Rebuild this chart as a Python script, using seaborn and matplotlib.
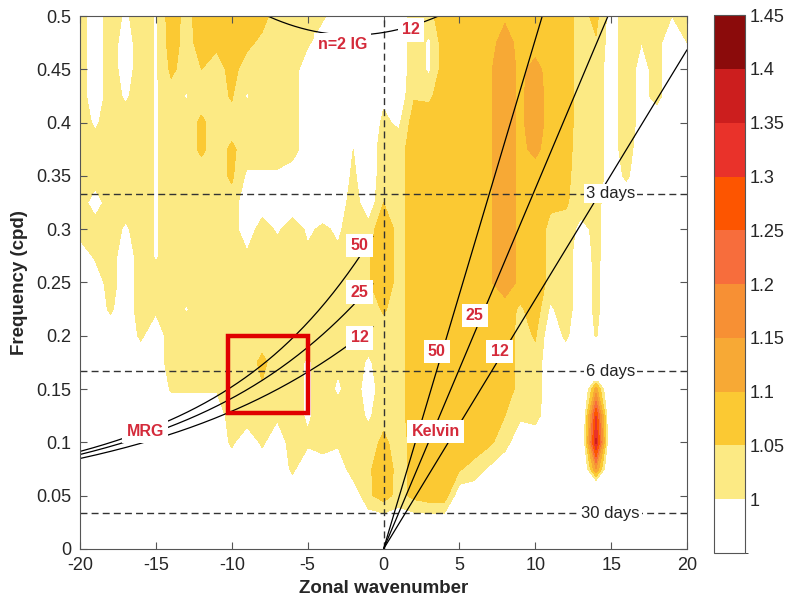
import numpy as np
import matplotlib
matplotlib.use("Agg")
import matplotlib.pyplot as plt
from matplotlib.colors import ListedColormap, BoundaryNorm
from matplotlib.cm import ScalarMappable
from matplotlib.patches import Rectangle
import seaborn as sns

# grid: zonal wavenumber (columns) and frequency in cpd (rows, top to bottom)
wavenumbers = [-20, -19, -18, -17, -16, -15, -14, -13, -12, -11,
               -10, -9, -8, -7, -6, -5, -4, -3, -2, -1,
               0,
               1, 2, 3, 4, 5, 6, 7, 8, 9, 10,
               11, 12, 13, 14, 15, 16, 17, 18, 19, 20]
frequencies = [0.5, 0.475, 0.45, 0.425, 0.4, 0.375, 0.35, 0.325, 0.3, 0.275, 0.25,
               0.225, 0.2, 0.175, 0.15, 0.125, 0.1, 0.075, 0.05, 0.025, 0.0]

# normalised power (symmetric / background), one row per frequency, k=-20..20
p_500 = [1.03, 0.96, 1.03, 0.99, 1.03, 0.993, 1.08, 1.03, 1.08, 1.08,
         1.09, 1.08, 1.065, 1.03, 1.03, 1.03, 1.01, 0.96, 0.96, 0.96,
         0.96,
         0.96, 1.03, 1.035, 1.08, 1.08, 1.08, 1.08, 1.09, 1.08, 1.08,
         1.08, 1.07, 1.03, 1.065, 0.97, 1.03, 1.02, 1.03, 1.0, 1.03]
p_475 = [1.03, 0.96, 1.03, 0.97, 1.03, 0.993, 1.075, 1.03, 1.07, 1.06,
         1.08, 1.06, 1.04, 1.03, 1.03, 1.01, 0.96, 0.96, 0.96, 0.96,
         0.96,
         0.96, 1.03, 0.99, 1.08, 1.08, 1.08, 1.08, 1.125, 1.08, 1.08,
         1.08, 1.07, 1.03, 1.045, 0.97, 1.03, 1.0, 1.02, 0.96, 1.0]
p_450 = [1.03, 0.96, 1.03, 0.97, 1.03, 0.993, 1.06, 1.03, 1.05, 1.03,
         1.065, 1.03, 1.03, 1.03, 1.03, 0.96, 0.96, 0.96, 0.96, 0.96,
         0.96,
         0.96, 1.03, 0.99, 1.08, 1.08, 1.08, 1.095, 1.125, 1.09, 1.115,
         1.08, 1.07, 1.03, 1.03, 0.97, 1.03, 0.98, 1.02, 0.96, 0.96]
p_425 = [1.03, 0.96, 1.03, 0.99, 1.03, 0.993, 1.03, 0.995, 1.03, 1.03,
         1.055, 0.995, 1.03, 1.03, 1.03, 0.96, 0.96, 0.96, 0.96, 0.96,
         0.99,
         0.96, 1.045, 1.04, 1.08, 1.08, 1.08, 1.095, 1.125, 1.09, 1.125,
         1.08, 1.07, 1.03, 1.03, 0.97, 1.03, 0.98, 1.02, 0.96, 0.96]
p_400 = [1.03, 0.99, 1.03, 1.03, 1.03, 0.993, 1.03, 1.03, 1.058, 1.03,
         1.03, 1.03, 1.03, 1.03, 1.03, 0.96, 0.96, 0.96, 0.96, 0.96,
         1.01,
         0.99, 1.075, 1.08, 1.08, 1.08, 1.08, 1.095, 1.125, 1.09, 1.125,
         1.08, 1.07, 1.03, 1.03, 0.97, 1.03, 0.98, 0.96, 0.96, 0.96]
p_375 = [1.03, 1.03, 1.03, 1.03, 1.03, 0.993, 1.03, 1.03, 1.058, 1.03,
         1.058, 1.03, 1.03, 1.03, 1.03, 0.96, 0.96, 0.96, 1.0, 0.96,
         1.03,
         1.03, 1.075, 1.08, 1.08, 1.08, 1.08, 1.095, 1.125, 1.09, 1.11,
         1.08, 1.065, 1.03, 1.03, 0.97, 1.03, 0.96, 0.96, 0.96, 0.96]
p_350 = [1.03, 1.03, 1.03, 1.03, 1.03, 0.993, 1.03, 1.03, 1.03, 1.03,
         1.058, 0.99, 0.99, 0.99, 0.96, 0.96, 0.96, 0.96, 1.01, 0.96,
         1.03,
         1.03, 1.075, 1.08, 1.08, 1.08, 1.08, 1.095, 1.125, 1.09, 1.08,
         1.07, 1.06, 1.03, 1.03, 0.97, 1.01, 0.96, 0.96, 0.96, 0.96]
p_325 = [1.03, 0.97, 1.03, 1.03, 1.03, 0.993, 1.03, 1.03, 1.03, 1.03,
         1.03, 0.96, 0.96, 0.96, 0.96, 0.96, 0.96, 0.96, 1.03, 0.96,
         1.05,
         1.03, 1.075, 1.08, 1.08, 1.08, 1.08, 1.095, 1.125, 1.09, 1.08,
         1.06, 1.055, 1.03, 1.02, 0.96, 0.96, 0.96, 0.96, 0.96, 0.96]
p_300 = [1.03, 1.03, 1.03, 0.99, 1.03, 0.993, 1.03, 1.03, 1.03, 1.03,
         1.03, 0.96, 1.03, 0.99, 1.03, 0.99, 1.01, 0.99, 1.03, 1.02,
         1.09,
         1.03, 1.075, 1.08, 1.08, 1.08, 1.08, 1.095, 1.125, 1.09, 1.08,
         1.035, 1.035, 0.98, 1.015, 0.96, 0.96, 0.96, 0.96, 0.96, 0.96]
p_275 = [0.96, 1.01, 1.03, 0.96, 1.03, 0.993, 1.03, 1.03, 1.03, 1.03,
         1.03, 1.01, 1.03, 1.03, 1.03, 1.01, 1.03, 1.01, 1.03, 1.045,
         1.09,
         1.03, 1.075, 1.08, 1.08, 1.08, 1.08, 1.095, 1.125, 1.09, 1.08,
         1.035, 1.03, 0.96, 1.015, 0.96, 0.96, 0.96, 0.96, 0.96, 0.96]
p_250 = [0.96, 0.96, 1.03, 0.96, 1.03, 1.03, 1.03, 1.03, 1.03, 1.03,
         1.03, 1.03, 1.03, 1.03, 1.03, 1.03, 1.03, 1.03, 1.03, 1.045,
         1.085,
         1.03, 1.075, 1.08, 1.08, 1.08, 1.08, 1.095, 1.125, 1.09, 1.08,
         1.035, 1.03, 0.96, 1.012, 0.96, 0.96, 0.96, 0.96, 0.96, 0.96]
p_225 = [0.96, 0.96, 1.01, 0.96, 1.03, 1.01, 1.03, 0.995, 1.03, 1.03,
         1.03, 1.03, 1.03, 1.03, 1.03, 1.03, 1.03, 1.03, 1.03, 1.03,
         1.055,
         1.03, 1.075, 1.08, 1.08, 1.08, 1.08, 1.08, 1.08, 1.04, 1.08,
         0.99, 1.03, 0.96, 1.012, 0.96, 0.96, 0.96, 0.96, 0.96, 0.96]
p_200 = [0.96, 0.96, 0.96, 0.96, 1.01, 0.96, 1.03, 1.03, 1.03, 1.03,
         1.03, 1.03, 1.03, 1.03, 1.03, 1.03, 1.03, 1.03, 1.03, 1.03,
         1.03,
         1.03, 1.075, 1.08, 1.08, 1.08, 1.08, 1.08, 1.08, 1.03, 1.055,
         0.96, 1.01, 0.96, 1.003, 0.96, 0.96, 0.96, 0.96, 0.96, 0.96]
p_175 = [0.96, 0.96, 0.96, 0.96, 0.96, 0.96, 1.03, 1.03, 1.03, 1.03,
         1.03, 1.03, 1.06, 1.03, 1.03, 0.99, 1.03, 1.01, 1.03, 0.99,
         1.03,
         1.03, 1.075, 1.08, 1.08, 1.08, 1.08, 1.08, 1.08, 1.03, 1.03,
         0.96, 0.96, 0.88, 0.8, 0.88, 0.96, 0.96, 0.96, 0.96, 0.96]
p_150 = [0.96, 0.96, 0.96, 0.96, 0.96, 0.96, 1.005, 1.005, 1.005, 1.005,
         1.03, 1.03, 1.045, 1.03, 1.03, 0.99, 1.03, 0.99, 1.03, 0.97,
         1.03,
         1.03, 1.075, 1.08, 1.08, 1.08, 1.08, 1.08, 1.08, 1.03, 1.03,
         0.96, 0.96, 0.88, 1.12, 0.88, 0.96, 0.96, 0.96, 0.96, 0.96]
p_125 = [0.96, 0.96, 0.96, 0.96, 0.96, 0.96, 0.96, 0.96, 0.96, 0.96,
         1.03, 1.03, 1.03, 1.01, 1.03, 0.99, 1.03, 1.03, 1.03, 0.99,
         1.035,
         1.03, 1.075, 1.08, 1.08, 1.08, 1.08, 1.08, 1.05, 1.01, 1.02,
         0.96, 0.96, 0.88, 1.3, 0.88, 0.96, 0.96, 0.96, 0.96, 0.96]
p_100 = [0.96, 0.96, 0.96, 0.96, 0.96, 0.96, 0.96, 0.96, 0.96, 0.96,
         1.01, 0.96, 1.01, 0.96, 1.03, 1.01, 1.03, 1.01, 1.03, 1.03,
         1.06,
         1.03, 1.065, 1.08, 1.08, 1.08, 1.08, 1.06, 1.02, 0.96, 0.96,
         0.96, 0.96, 0.88, 1.36, 0.88, 0.96, 0.96, 0.96, 0.96, 0.96]
p_075 = [0.96, 0.96, 0.96, 0.96, 0.96, 0.96, 0.96, 0.96, 0.96, 0.96,
         0.96, 0.96, 0.96, 0.96, 1.01, 0.96, 0.96, 0.96, 1.03, 1.04,
         1.085,
         1.03, 1.065, 1.08, 1.08, 1.055, 1.03, 0.99, 0.96, 0.96, 0.96,
         0.96, 0.96, 0.88, 1.15, 0.88, 0.96, 0.96, 0.96, 0.96, 0.96]
p_050 = [0.96, 0.96, 0.96, 0.96, 0.96, 0.96, 0.96, 0.96, 0.96, 0.96,
         0.96, 0.96, 0.96, 0.96, 0.96, 0.96, 0.96, 0.96, 0.96, 1.04,
         1.075,
         1.03, 1.065, 1.08, 1.08, 0.96, 0.96, 0.96, 0.96, 0.96, 0.96,
         0.96, 0.96, 0.88, 0.8, 0.88, 0.96, 0.96, 0.96, 0.96, 0.96]
p_025 = [0.96, 0.96, 0.96, 0.96, 0.96, 0.96, 0.96, 0.96, 0.96, 0.96,
         0.96, 0.96, 0.96, 0.96, 0.96, 0.96, 0.96, 0.96, 0.96, 0.96,
         0.96,
         0.96, 0.96, 0.96, 0.96, 0.96, 0.96, 0.96, 0.96, 0.96, 0.96,
         0.96, 0.96, 0.96, 0.96, 0.96, 0.96, 0.96, 0.96, 0.96, 0.96]
p_000 = [0.96, 0.96, 0.96, 0.96, 0.96, 0.96, 0.96, 0.96, 0.96, 0.96,
         0.96, 0.96, 0.96, 0.96, 0.96, 0.96, 0.96, 0.96, 0.96, 0.96,
         0.96,
         0.96, 0.96, 0.96, 0.96, 0.96, 0.96, 0.96, 0.96, 0.96, 0.96,
         0.96, 0.96, 0.96, 0.96, 0.96, 0.96, 0.96, 0.96, 0.96, 0.96]

levels = [0.95, 1.0, 1.05, 1.1, 1.15, 1.2, 1.25, 1.3, 1.35, 1.4, 1.45]
level_colors = ["#ffffff", "#fcea84", "#fbc933", "#f7a935", "#f79034",
                "#f76d3c", "#fd5500", "#e9322a", "#cc1e1e", "#8b0b0b"]
cbar_ticks = [1.0, 1.05, 1.1, 1.15, 1.2, 1.25, 1.3, 1.35, 1.4, 1.45]
cbar_labels = ["1", "1.05", "1.1", "1.15", "1.2", "1.25", "1.3", "1.35", "1.4", "1.45"]

x_ticks = [-20, -15, -10, -5, 0, 5, 10, 15, 20]
y_ticks = [0, 0.05, 0.1, 0.15, 0.2, 0.25, 0.3, 0.35, 0.4, 0.45, 0.5]
y_labels = ["0", "0.05", "0.1", "0.15", "0.2", "0.25", "0.3", "0.35", "0.4", "0.45", "0.5"]

depths = [12, 25, 50]          # equivalent depths (m)
periods = [3, 6, 30]           # days

# shallow-water constants
g = 9.81
radius = 6.371e6
beta = 2 * 7.292e-5 / radius
to_cpd = 86400 / (2 * np.pi)


def kelvin(k, h):
    c = np.sqrt(g * h)
    return c * k / radius * to_cpd


def mrg(k, h):
    c = np.sqrt(g * h)
    kp = k / radius
    return 0.5 * (c * kp + np.sqrt((c * kp) ** 2 + 4 * beta * c)) * to_cpd


def inertia_gravity(k, h, n):
    c = np.sqrt(g * h)
    w = []
    for kk in k:
        kp = kk / radius
        roots = np.roots([1, 0, -(c ** 2 * kp ** 2 + (2 * n + 1) * beta * c), -beta * c ** 2 * kp])
        w.append(roots.real.max())
    return np.array(w) * to_cpd


sns.set_style("ticks")
plt.rcParams["font.family"] = ["Liberation Sans", "DejaVu Sans"]

fig = plt.figure(figsize=(7.87, 6.07), dpi=100)
ax = fig.add_axes([0.1017, 0.0956, 0.7713, 0.878])
cax = fig.add_axes([0.907, 0.089, 0.039, 0.886])
ax.set_axisbelow(False)

power = np.array([p_500, p_475, p_450, p_425, p_400, p_375, p_350, p_325, p_300, p_275, p_250,
                  p_225, p_200, p_175, p_150, p_125, p_100, p_075, p_050, p_025, p_000])[::-1]
kk, ff = np.meshgrid(wavenumbers, frequencies[::-1])

cmap = ListedColormap(level_colors)
cmap.set_under("white")
cmap.set_over(level_colors[-1])
norm = BoundaryNorm(levels, cmap.N)
ax.contourf(kk, ff, power, levels=levels, cmap=cmap, norm=norm, extend="both", zorder=1)

dash = (0, (5, 3))
for p in periods:
    ax.axhline(1 / p, color="#333333", lw=1, ls=dash, zorder=3)
ax.axvline(0, color="#333333", lw=1, ls=dash, zorder=3)

k_pos = np.linspace(0, 20, 100)
k_neg = np.linspace(-20, -0.7, 200)
k_ig = np.linspace(-9, 5, 200)
for h in depths:
    sns.lineplot(x=k_pos, y=kelvin(k_pos, h), ax=ax, color="black", lw=0.9,
                 sort=False, estimator=None, zorder=4)
    sns.lineplot(x=k_neg, y=mrg(k_neg, h), ax=ax, color="black", lw=0.9,
                 sort=False, estimator=None, zorder=4)
sns.lineplot(x=k_ig, y=inertia_gravity(k_ig, 12, 2), ax=ax, color="black", lw=0.9,
             sort=False, estimator=None, zorder=4)

red = "#d42a3a"


def tag(x, y, s):
    ax.text(x, y, s, color=red, fontsize=11.5, fontweight="bold", ha="center", va="center",
            bbox=dict(facecolor="white", edgecolor="none", pad=3), zorder=6)


tag(3.5, 0.185, "50")
tag(6.0, 0.219, "25")
tag(7.64, 0.185, "12")
tag(3.43, 0.11, "Kelvin")
tag(-1.58, 0.285, "50")
tag(-1.58, 0.241, "25")
tag(-1.58, 0.198, "12")
tag(-15.7, 0.11, "MRG")
tag(-2.7, 0.473, "n=2 IG")
tag(1.8, 0.487, "12")

for p in periods:
    ax.text(14.96, 1 / p, f"{p} days", color="#222222", fontsize=12, ha="center", va="center",
            bbox=dict(facecolor="white", edgecolor="none", pad=1.5), zorder=6)

ax.add_patch(Rectangle((-10.28, 0.128), 5.28, 0.072, fill=False, edgecolor="#e00000",
                       lw=3.2, zorder=7))

ax.set_xlim(-20, 20)
ax.set_ylim(0, 0.5)
ax.set_xticks(x_ticks)
ax.set_xticklabels([str(t) for t in x_ticks])
ax.set_yticks(y_ticks)
ax.set_yticklabels(y_labels)
ax.tick_params(direction="in", top=True, right=True, length=5, width=0.8,
               labelsize=13, colors="#262626", pad=6)
ax.tick_params(which="both", color="#555555")
for s in ax.spines.values():
    s.set_color("#555555")
    s.set_linewidth(0.8)
    s.set_zorder(8)
ax.set_xlabel("Zonal wavenumber", fontsize=13.5, fontweight="bold", labelpad=4)
ax.set_ylabel("Frequency (cpd)", fontsize=13.5, fontweight="bold", labelpad=6)

sm = ScalarMappable(norm=norm, cmap=cmap)
cb = fig.colorbar(sm, cax=cax, ticks=cbar_ticks)
cb.ax.set_yticklabels(cbar_labels)
cb.ax.tick_params(direction="in", length=4, width=0.8, labelsize=13, colors="#262626")
cb.ax.tick_params(color="#555555")
cb.outline.set_edgecolor("#555555")
cb.outline.set_linewidth(0.8)

fig.savefig("out.png", dpi=100)
